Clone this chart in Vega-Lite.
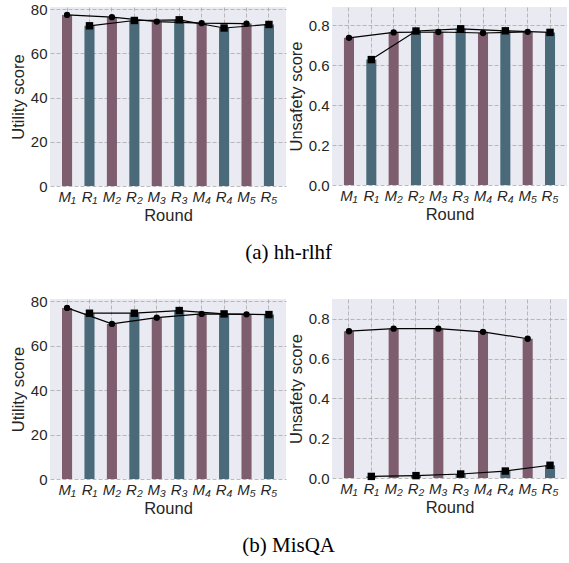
{
  "$schema": "https://vega.github.io/schema/vega-lite/v6.json",
  "padding": {"left": 10, "top": 2, "right": 0, "bottom": 0},
  "config": {
    "view": {"fill": "#eaeaf2", "stroke": null},
    "font": "Liberation Sans",
    "axis": {"domain": false, "ticks": false, "grid": true, "gridColor": "#aaaaaa", "gridDash": [4, 2], "gridWidth": 0.8, "labelFontSize": 15, "titleFontSize": 16.5, "labelColor": "#262626", "titleColor": "#262626", "titleFontWeight": "normal", "labelPadding": 3},
    "concat": {"spacing": 2}
  },
  "datasets": {
    "d": [
      {"ds": "hh", "metric": "u", "label": "M₁", "type": "M", "value": 77.4},
      {"ds": "hh", "metric": "u", "label": "R₁", "type": "R", "value": 72.5},
      {"ds": "hh", "metric": "u", "label": "M₂", "type": "M", "value": 76.4},
      {"ds": "hh", "metric": "u", "label": "R₂", "type": "R", "value": 74.9},
      {"ds": "hh", "metric": "u", "label": "M₃", "type": "M", "value": 74.4},
      {"ds": "hh", "metric": "u", "label": "R₃", "type": "R", "value": 75.2},
      {"ds": "hh", "metric": "u", "label": "M₄", "type": "M", "value": 73.7},
      {"ds": "hh", "metric": "u", "label": "R₄", "type": "R", "value": 71.5},
      {"ds": "hh", "metric": "u", "label": "M₅", "type": "M", "value": 73.5},
      {"ds": "hh", "metric": "u", "label": "R₅", "type": "R", "value": 73.1},
      {"ds": "hh", "metric": "s", "label": "M₁", "type": "M", "value": 0.736},
      {"ds": "hh", "metric": "s", "label": "R₁", "type": "R", "value": 0.627},
      {"ds": "hh", "metric": "s", "label": "M₂", "type": "M", "value": 0.763},
      {"ds": "hh", "metric": "s", "label": "R₂", "type": "R", "value": 0.770},
      {"ds": "hh", "metric": "s", "label": "M₃", "type": "M", "value": 0.765},
      {"ds": "hh", "metric": "s", "label": "R₃", "type": "R", "value": 0.781},
      {"ds": "hh", "metric": "s", "label": "M₄", "type": "M", "value": 0.760},
      {"ds": "hh", "metric": "s", "label": "R₄", "type": "R", "value": 0.771},
      {"ds": "hh", "metric": "s", "label": "M₅", "type": "M", "value": 0.766},
      {"ds": "hh", "metric": "s", "label": "R₅", "type": "R", "value": 0.763},
      {"ds": "mq", "metric": "u", "label": "M₁", "type": "M", "value": 77.0},
      {"ds": "mq", "metric": "u", "label": "R₁", "type": "R", "value": 74.6},
      {"ds": "mq", "metric": "u", "label": "M₂", "type": "M", "value": 69.8},
      {"ds": "mq", "metric": "u", "label": "R₂", "type": "R", "value": 74.6},
      {"ds": "mq", "metric": "u", "label": "M₃", "type": "M", "value": 72.6},
      {"ds": "mq", "metric": "u", "label": "R₃", "type": "R", "value": 75.8},
      {"ds": "mq", "metric": "u", "label": "M₄", "type": "M", "value": 74.3},
      {"ds": "mq", "metric": "u", "label": "R₄", "type": "R", "value": 74.3},
      {"ds": "mq", "metric": "u", "label": "M₅", "type": "M", "value": 74.1},
      {"ds": "mq", "metric": "u", "label": "R₅", "type": "R", "value": 74.0},
      {"ds": "mq", "metric": "s", "label": "M₁", "type": "M", "value": 0.738},
      {"ds": "mq", "metric": "s", "label": "R₁", "type": "R", "value": 0.008},
      {"ds": "mq", "metric": "s", "label": "M₂", "type": "M", "value": 0.751},
      {"ds": "mq", "metric": "s", "label": "R₂", "type": "R", "value": 0.012},
      {"ds": "mq", "metric": "s", "label": "M₃", "type": "M", "value": 0.751},
      {"ds": "mq", "metric": "s", "label": "R₃", "type": "R", "value": 0.020},
      {"ds": "mq", "metric": "s", "label": "M₄", "type": "M", "value": 0.735},
      {"ds": "mq", "metric": "s", "label": "R₄", "type": "R", "value": 0.035},
      {"ds": "mq", "metric": "s", "label": "M₅", "type": "M", "value": 0.700},
      {"ds": "mq", "metric": "s", "label": "R₅", "type": "R", "value": 0.064}
    ]
  },
  "spacing": 31,
  "vconcat": [
    {
      "title": {"text": "(a) hh-rlhf", "orient": "bottom", "font": "Liberation Serif", "fontSize": 21, "fontWeight": "normal", "offset": 18, "anchor": "middle", "color": "black"},
      "spacing": 2,
      "hconcat": [
        {
          "width": 236, "height": 179,
          "data": {"name": "d"},
          "transform": [{"filter": "datum.ds == 'hh' && datum.metric == 'u'"}],
          "encoding": {
            "x": {"field": "label", "type": "nominal", "scale": {"domain": ["M₁","R₁","M₂","R₂","M₃","R₃","M₄","R₄","M₅","R₅"], "paddingInner": 0.55, "paddingOuter": 0.535}, "axis": {"title": "Round", "labelAngle": 0, "labelFontStyle": "italic", "bandPosition": 0.5, "titlePadding": 3}},
            "y": {"field": "value", "type": "quantitative", "scale": {"domain": [0, 81], "nice": false}, "axis": {"title": "Utility score", "values": [0, 20, 40, 60, 80], "format": "d", "titlePadding": 4}}
          },
          "layer": [
            {"mark": {"type": "bar"}, "encoding": {"color": {"field": "type", "type": "nominal", "scale": {"domain": ["M", "R"], "range": ["#7d5d6e", "#4a6a7a"]}, "legend": null}}},
            {"mark": {"type": "line", "color": "black", "strokeWidth": 1.2}, "encoding": {"detail": {"field": "type", "type": "nominal"}}},
            {"mark": {"type": "point", "filled": true, "color": "black", "opacity": 1}, "encoding": {"shape": {"field": "type", "type": "nominal", "scale": {"domain": ["M", "R"], "range": ["circle", "square"]}, "legend": null}, "size": {"field": "type", "type": "nominal", "scale": {"domain": ["M", "R"], "range": [40, 55]}, "legend": null}}}
          ]
        },
        {
          "width": 235, "height": 178,
          "data": {"name": "d"},
          "transform": [{"filter": "datum.ds == 'hh' && datum.metric == 's'"}],
          "encoding": {
            "x": {"field": "label", "type": "nominal", "scale": {"domain": ["M₁","R₁","M₂","R₂","M₃","R₃","M₄","R₄","M₅","R₅"], "paddingInner": 0.55, "paddingOuter": 0.535}, "axis": {"title": "Round", "labelAngle": 0, "labelFontStyle": "italic", "bandPosition": 0.5, "titlePadding": 3}},
            "y": {"field": "value", "type": "quantitative", "scale": {"domain": [0, 0.89], "nice": false}, "axis": {"title": "Unsafety score", "values": [0, 0.2, 0.4, 0.6, 0.8], "format": ".1f", "titlePadding": 4}}
          },
          "layer": [
            {"mark": {"type": "bar"}, "encoding": {"color": {"field": "type", "type": "nominal", "scale": {"domain": ["M", "R"], "range": ["#7d5d6e", "#4a6a7a"]}, "legend": null}}},
            {"mark": {"type": "line", "color": "black", "strokeWidth": 1.2}, "encoding": {"detail": {"field": "type", "type": "nominal"}}},
            {"mark": {"type": "point", "filled": true, "color": "black", "opacity": 1}, "encoding": {"shape": {"field": "type", "type": "nominal", "scale": {"domain": ["M", "R"], "range": ["circle", "square"]}, "legend": null}, "size": {"field": "type", "type": "nominal", "scale": {"domain": ["M", "R"], "range": [40, 55]}, "legend": null}}}
          ]
        }
      ]
    },
    {
      "title": {"text": "(b) MisQA", "orient": "bottom", "font": "Liberation Serif", "fontSize": 21, "fontWeight": "normal", "offset": 18, "anchor": "middle", "color": "black"},
      "spacing": 2,
      "hconcat": [
        {
          "width": 236, "height": 180,
          "data": {"name": "d"},
          "transform": [{"filter": "datum.ds == 'mq' && datum.metric == 'u'"}],
          "encoding": {
            "x": {"field": "label", "type": "nominal", "scale": {"domain": ["M₁","R₁","M₂","R₂","M₃","R₃","M₄","R₄","M₅","R₅"], "paddingInner": 0.55, "paddingOuter": 0.535}, "axis": {"title": "Round", "labelAngle": 0, "labelFontStyle": "italic", "bandPosition": 0.5, "titlePadding": 3}},
            "y": {"field": "value", "type": "quantitative", "scale": {"domain": [0, 81], "nice": false}, "axis": {"title": "Utility score", "values": [0, 20, 40, 60, 80], "format": "d", "titlePadding": 4}}
          },
          "layer": [
            {"mark": {"type": "bar"}, "encoding": {"color": {"field": "type", "type": "nominal", "scale": {"domain": ["M", "R"], "range": ["#7d5d6e", "#4a6a7a"]}, "legend": null}}},
            {"mark": {"type": "line", "color": "black", "strokeWidth": 1.2}, "encoding": {"detail": {"field": "type", "type": "nominal"}}},
            {"mark": {"type": "point", "filled": true, "color": "black", "opacity": 1}, "encoding": {"shape": {"field": "type", "type": "nominal", "scale": {"domain": ["M", "R"], "range": ["circle", "square"]}, "legend": null}, "size": {"field": "type", "type": "nominal", "scale": {"domain": ["M", "R"], "range": [40, 55]}, "legend": null}}}
          ]
        },
        {
          "width": 235, "height": 179,
          "data": {"name": "d"},
          "transform": [{"filter": "datum.ds == 'mq' && datum.metric == 's'"}],
          "encoding": {
            "x": {"field": "label", "type": "nominal", "scale": {"domain": ["M₁","R₁","M₂","R₂","M₃","R₃","M₄","R₄","M₅","R₅"], "paddingInner": 0.55, "paddingOuter": 0.535}, "axis": {"title": "Round", "labelAngle": 0, "labelFontStyle": "italic", "bandPosition": 0.5, "titlePadding": 3}},
            "y": {"field": "value", "type": "quantitative", "scale": {"domain": [0, 0.9], "nice": false}, "axis": {"title": "Unsafety score", "values": [0, 0.2, 0.4, 0.6, 0.8], "format": ".1f", "titlePadding": 4}}
          },
          "layer": [
            {"mark": {"type": "bar"}, "encoding": {"color": {"field": "type", "type": "nominal", "scale": {"domain": ["M", "R"], "range": ["#7d5d6e", "#4a6a7a"]}, "legend": null}}},
            {"mark": {"type": "line", "color": "black", "strokeWidth": 1.2}, "encoding": {"detail": {"field": "type", "type": "nominal"}}},
            {"mark": {"type": "point", "filled": true, "color": "black", "opacity": 1}, "encoding": {"shape": {"field": "type", "type": "nominal", "scale": {"domain": ["M", "R"], "range": ["circle", "square"]}, "legend": null}, "size": {"field": "type", "type": "nominal", "scale": {"domain": ["M", "R"], "range": [40, 55]}, "legend": null}}}
          ]
        }
      ]
    }
  ]
}
